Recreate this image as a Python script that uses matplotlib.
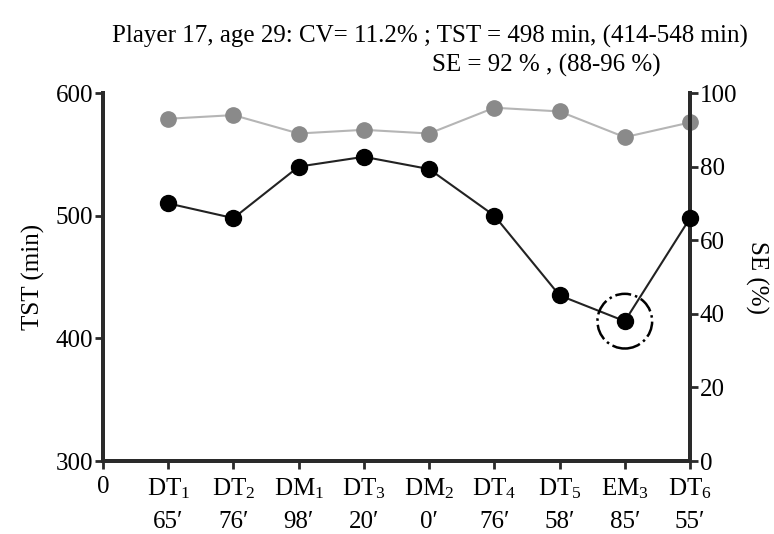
import matplotlib
matplotlib.use('Agg')
import matplotlib.pyplot as plt

plt.rcParams['font.family'] = ['Liberation Serif', 'DejaVu Serif']
plt.rcParams['mathtext.fontset'] = 'custom'
plt.rcParams['mathtext.rm'] = 'Liberation Serif'
plt.rcParams['mathtext.it'] = 'Liberation Serif:italic'

# Données
sessions = ['DT$_1$', 'DT$_2$', 'DM$_1$', 'DT$_3$', 'DM$_2$', 'DT$_4$', 'DT$_5$', 'EM$_3$', 'DT$_6$']
durations = ['65\u2032', '76\u2032', '98\u2032', '20\u2032', '0\u2032', '76\u2032', '58\u2032', '85\u2032', '55\u2032']
tst = [510, 498, 540, 548, 538, 500, 435, 414, 498]
se = [93, 94, 89, 90, 89, 96, 95, 88, 92]
highlight = 7  # EM3

x = list(range(1, len(sessions) + 1))

fig = plt.figure(figsize=(7.74, 5.34), dpi=100)
ax = fig.add_axes([0.1331, 0.1367, 0.7584, 0.6891])
ax2 = ax.twinx()

ax2.plot(x, se, color='#b5b5b5', lw=1.5, marker='o', ms=11,
         markerfacecolor='#8a8a8a', markeredgecolor='#8a8a8a', zorder=2, clip_on=False)
ax.plot(x, tst, color='#222222', lw=1.5, marker='o', ms=11.5,
        markerfacecolor='black', markeredgecolor='black', zorder=3, clip_on=False)
ax.scatter([x[highlight]], [tst[highlight]], s=1550, facecolors='none',
           edgecolors='black', linestyles='-.', linewidths=1.8, zorder=4)

ax.set_zorder(ax2.get_zorder() + 1)
ax.patch.set_visible(False)

ax.set_xlim(0, 9)
ax.set_ylim(300, 600)
ax2.set_ylim(0, 100)
ax.set_yticks([300, 400, 500, 600])
ax2.set_yticks([0, 20, 40, 60, 80, 100])
ax.set_xticks([0] + x)
ax.set_xticklabels(['0\n '] + [f'{s}\n{d}' for s, d in zip(sessions, durations)],
                   fontsize=18, linespacing=1.6)

for a in (ax, ax2):
    a.spines['top'].set_visible(False)
    for sp in a.spines.values():
        sp.set_linewidth(2.8)
        sp.set_color('#2a2a2a')
    a.tick_params(width=2, length=6, color='#2a2a2a', labelsize=18, pad=1)
ax.tick_params(axis='x', pad=5)

ax.set_ylabel('TST (min)', fontsize=18, labelpad=8)
ax2.set_ylabel('SE (%)', fontsize=18, rotation=270, labelpad=22)

fig.text(0.966, 0.932, 'Player 17, age 29: CV= 11.2% ; TST = 498 min, (414-548 min)',
         ha='right', va='center', fontsize=18)
fig.text(0.853, 0.878, 'SE = 92 % , (88-96 %)', ha='right', va='center', fontsize=18)

fig.savefig('out.png', dpi=100)
